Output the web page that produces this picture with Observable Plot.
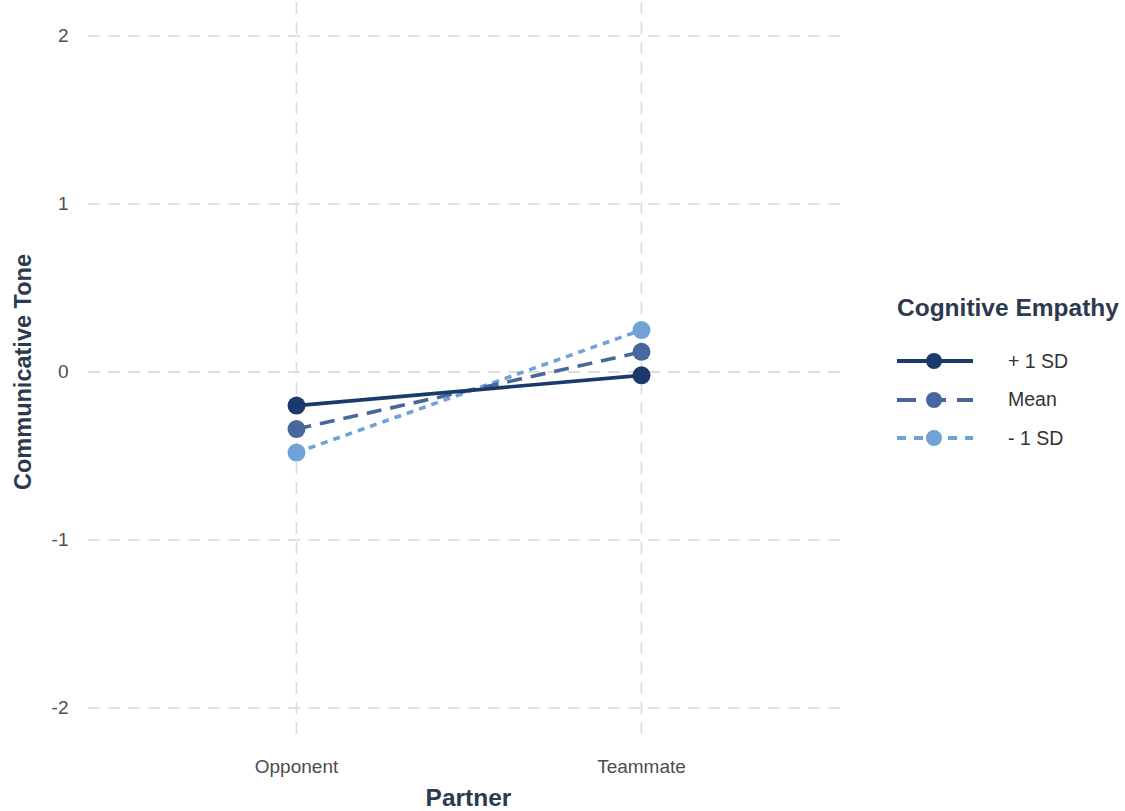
<!DOCTYPE html>
<html>
<head>
<meta charset="utf-8">
<script src="https://cdn.jsdelivr.net/npm/d3@7"></script>
<script src="https://cdn.jsdelivr.net/npm/@observablehq/plot@0.6"></script>
<style>
  body { margin: 0; background: #fff; font-family: "Liberation Sans", Arial, sans-serif; }
  #wrap { position: relative; width: 1125px; height: 811px; }
  #chart svg { font-family: "Liberation Sans", Arial, sans-serif; }
  g[aria-label="x-axis tick label"] text, g[aria-label="y-axis tick label"] text { font-size: 19px; fill: #4d4d4d; }
  g[aria-label="x-axis label"] text { font-size: 24.5px; font-weight: bold; fill: #2c3a4e; }
  g[aria-label="y-axis label"] text { font-size: 23.5px; font-weight: bold; fill: #2c3a4e; }
  #legend { position: absolute; left: 897px; top: 292px; color: #2c3a4e; }
  #legend .title { font-size: 24.5px; font-weight: bold; line-height: 32px; margin-bottom: 18px; }
  #legend .row { display: flex; align-items: center; height: 38.5px; }
  #legend .row span { margin-left: 35px; font-size: 19.5px; color: #333; }
</style>
</head>
<body>
<div id="wrap">
  <div id="chart"></div>
  <div id="legend"></div>
</div>
<script>
const partners = ["Opponent", "Teammate"];
const levels = ["+ 1 SD", "Mean", "- 1 SD"];
const colors = ["#1a3a6b", "#48689d", "#6fa3d8"];
const dashes = ["none", "15,9", "7,6"];
const valuesPlus1SD = [-0.20, -0.02];
const valuesMean = [-0.34, 0.12];
const valuesMinus1SD = [-0.48, 0.25];
const yTicks = [-2, -1, 0, 1, 2];

const seriesValues = [valuesPlus1SD, valuesMean, valuesMinus1SD];
const data = [];
levels.forEach((lv, i) => partners.forEach((p, j) => data.push({level: lv, partner: p, tone: seriesValues[i][j]})));

const gridDash = "12,8";
const marks = [
  Plot.gridY(yTicks, {stroke: "#dedede", strokeOpacity: 1, strokeWidth: 1.8, strokeDasharray: gridDash}),
  Plot.gridX(partners, {stroke: "#dedede", strokeOpacity: 1, strokeWidth: 1.8, strokeDasharray: gridDash}),
  Plot.axisY(yTicks, {tickSize: 0, tickPadding: 20, label: "Communicative Tone", labelAnchor: "center", labelArrow: "none", labelOffset: 74, tickFormat: d => String(d)}),
  Plot.axisX({tickSize: 0, tickPadding: 18, label: "Partner", labelAnchor: "center", labelArrow: "none", labelOffset: 64})
];
levels.slice().reverse().forEach((lv) => {
  const i = levels.indexOf(lv);
  marks.push(Plot.line(data.filter(d => d.level === lv), {x: "partner", y: "tone", stroke: colors[i], strokeWidth: 3.6, strokeDasharray: dashes[i], strokeLinecap: "butt"}));
});
levels.forEach((lv, i) => {
  marks.push(Plot.dot(data.filter(d => d.level === lv), {x: "partner", y: "tone", r: 9, fill: colors[i], stroke: "none"}));
});

const chart = Plot.plot({
  width: 1125,
  height: 811,
  marginLeft: 88,
  marginRight: 277,
  marginTop: 2,
  marginBottom: 70,
  x: {type: "point", domain: partners, padding: 0.6},
  y: {domain: [-2.2, 2.2]},
  marks
});
document.getElementById("chart").appendChild(chart);

// Legend
const legend = document.getElementById("legend");
const title = document.createElement("div");
title.className = "title";
title.textContent = "Cognitive Empathy";
legend.appendChild(title);
levels.forEach((lv, i) => {
  const row = document.createElement("div");
  row.className = "row";
  const svg = d3.create("svg").attr("width", 76).attr("height", 20);
  svg.append("line").attr("x1", 0).attr("x2", 76).attr("y1", 10).attr("y2", 10)
    .attr("stroke", colors[i]).attr("stroke-width", 4)
    .attr("stroke-dasharray", dashes[i] === "none" ? null : (i === 1 ? "19,11" : "9,8"));
  svg.append("circle").attr("cx", 37).attr("cy", 10).attr("r", 8).attr("fill", colors[i]);
  row.appendChild(svg.node());
  const label = document.createElement("span");
  label.textContent = lv;
  row.appendChild(label);
  legend.appendChild(row);
});
</script>
</body>
</html>
